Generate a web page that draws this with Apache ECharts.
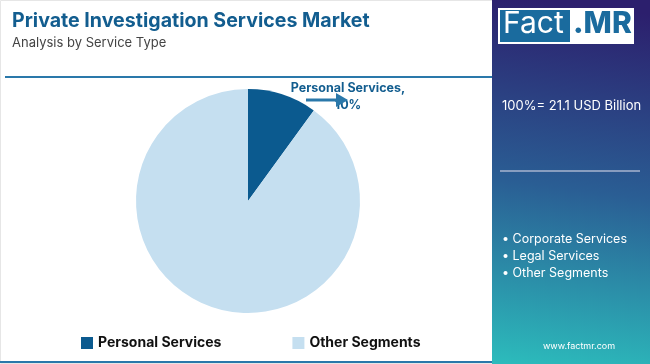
<!DOCTYPE html>
<html><head><meta charset="utf-8">
<script src="https://cdn.jsdelivr.net/npm/echarts@6/dist/echarts.min.js"></script>
<style>html,body{margin:0;padding:0;background:#fff}#c{width:650px;height:364px}</style>
</head><body><div id="c"></div>
<script>
const categories = ["Personal Services", "Other Segments"];
const values = [10, 90];
const sliceColors = ["#0b5a8f", "#c5dff0"];
const panelBullets = ["• Corporate Services", "• Legal Services", "• Other Segments"];
const totalText = "100%= 21.1 USD Billion";

const chart = echarts.init(document.getElementById('c'));
const F = "Inter, 'Open Sans', sans-serif";
chart.setOption({
  animation: false,
  graphic: [
    {type:'rect', shape:{x:0.5,y:0.5,width:649,height:363}, style:{fill:'none', stroke:'#e6e6e6', lineWidth:1}, z:0},
    {type:'line', shape:{x1:5,y1:77,x2:492,y2:77}, style:{stroke:'#2a78aa', lineWidth:2}},
    {type:'line', shape:{x1:0,y1:362,x2:492,y2:362}, style:{stroke:'#2a78aa', lineWidth:2}},
    {type:'text', left:12, top:11, style:{text:'Private Investigation Services Market', fill:'#125d8f', font:"700 19.6px "+F}},
    {type:'text', left:12, top:37, style:{text:'Analysis by Service Type', fill:'#444', font:"400 13px "+F}},
    {type:'rect', shape:{x:492,y:0,width:158,height:364}, style:{fill:new echarts.graphic.LinearGradient(0.3,0,0,1,[{offset:0,color:'#2c1f6d'},{offset:0.5,color:'#2a5e94'},{offset:1,color:'#2cbcbc'}])}},
    {type:'rect', shape:{x:498,y:8,width:136,height:36}, style:{fill:'#fff'}},
    {type:'rect', shape:{x:500,y:10,width:70,height:32}, style:{fill:'#1a6b9e'}},
    {type:'text', left:503, top:9, style:{text:'Fact', fill:'#fff', font:"400 30px "+F}},
    {type:'text', left:573, top:9, style:{text:'.MR', fill:'#1a6b9e', font:"800 30px "+F}},
    {type:'text', left:502, top:100, style:{text:totalText, fill:'#fff', font:"400 13px "+F}},
    {type:'line', shape:{x1:500,y1:171,x2:640,y2:171}, style:{stroke:'#a9b4cf', lineWidth:1.5}},
    {type:'text', left:502, top:231, style:{text:panelBullets.join('\n'), fill:'#fff', font:"400 12.5px "+F, lineHeight:17}},
    {type:'text', left:543, top:342, style:{text:'www.factmr.com', fill:'#fff', font:"400 9px "+F, align:'center'}},
    {type:'line', shape:{x1:306,y1:100,x2:338,y2:100}, style:{stroke:'#2a78aa', lineWidth:3}, z:10},
    {type:'polygon', shape:{points:[[336,93],[348,100],[336,107]]}, style:{fill:'#2a78aa'}, z:10}
  ],
  legend: {
    data: categories, left: 76, top: 331, icon:'rect', itemWidth:12, itemHeight:12, itemGap:71,
    textStyle:{fontFamily:F, fontWeight:700, fontSize:14, color:'#111'}
  },
  series: [{
    type:'pie', center:[248,201], radius:[0,112], startAngle:90, clockwise:true,
    data: categories.map((n,i)=>({name:n, value:values[i], itemStyle:{color:sliceColors[i]},
      label: i===0 ? {show:true} : {show:false}, labelLine:{show:false}})),
    label: {position:'outside', formatter: p => p.name + ',\n' + p.value + '%', color:'#125d8f',
      fontFamily:F, fontWeight:700, fontSize:12.5, lineHeight:17, align:'center'},
    labelLayout: {x:348, y:97, align:'center', verticalAlign:'middle'},
    emphasis:{disabled:true}
  }]
});
</script></body></html>
